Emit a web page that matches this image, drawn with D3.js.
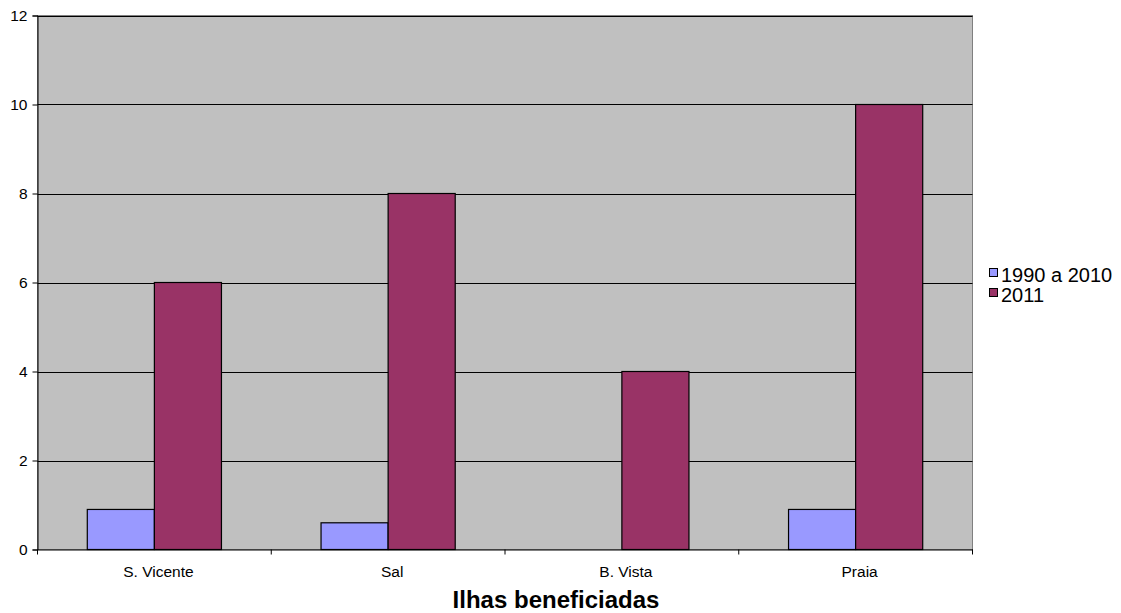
<!DOCTYPE html>
<html>
<head>
<meta charset="utf-8">
<script src="https://cdn.jsdelivr.net/npm/d3@7"></script>
<style>
  html, body { margin: 0; padding: 0; background: #fff; }
  svg { display: block; font-family: "Liberation Sans", Arial, sans-serif; }
</style>
</head>
<body>
<svg id="chart" width="1121" height="613"></svg>
<script>
// Islands and yearly counts
const categories = ["S. Vicente", "Sal", "B. Vista", "Praia"];
const seriesNames = ["1990 a 2010", "2011"];
const values1990to2010 = [0.9, 0.6, 0, 0.9];
const values2011 = [6, 8, 4, 10];
const yTicks = [0, 2, 4, 6, 8, 10, 12];
const seriesColors = ["#9999FF", "#993366"];
const axisTitle = "Ilhas beneficiadas";

const svg = d3.select("#chart");
const plot = { left: 37.5, top: 15.5, right: 972.5, bottom: 549.5 };

const x = d3.scaleBand().domain(categories).range([plot.left, plot.right]).paddingInner(0).paddingOuter(0);
const bw = x.bandwidth();
const barW = bw * 0.287;
const groupOffset = (bw - 2 * barW) / 2;
const xs = d3.scaleBand().domain(seriesNames).range([groupOffset, groupOffset + 2 * barW]).padding(0);
const y = d3.scaleLinear().domain([0, 12]).range([plot.bottom, plot.top]);

// plot background
svg.append("rect")
  .attr("x", plot.left).attr("y", plot.top)
  .attr("width", plot.right - plot.left).attr("height", plot.bottom - plot.top)
  .attr("fill", "#C0C0C0").attr("stroke", "#808080").attr("stroke-width", 1);

// horizontal gridlines
svg.append("g").selectAll("line").data(yTicks.filter(d => d > 0)).join("line")
  .attr("x1", plot.left).attr("x2", plot.right)
  .attr("y1", d => Math.round(y(d)) + 0.5).attr("y2", d => Math.round(y(d)) + 0.5)
  .attr("stroke", "#000").attr("stroke-width", 1);

// bars
const rows = categories.map((c, i) => ({ cat: c, vals: [values1990to2010[i], values2011[i]] }));
const groups = svg.append("g").selectAll("g").data(rows).join("g")
  .attr("transform", d => `translate(${x(d.cat)},0)`);
groups.selectAll("rect").data(d => d.vals.map((v, j) => ({ v, s: seriesNames[j], j })).filter(e => e.v > 0))
  .join("rect")
  .attr("x", e => xs(e.s))
  .attr("width", barW)
  .attr("y", e => y(e.v))
  .attr("height", e => y(0) - y(e.v))
  .attr("fill", e => seriesColors[e.j])
  .attr("stroke", "#000").attr("stroke-width", 1.2);

// y axis
const yAxis = d3.axisLeft(y).tickValues(yTicks).tickSize(5).tickPadding(5).tickFormat(d3.format("d"));
const yg = svg.append("g").attr("transform", `translate(${plot.left},0)`).call(yAxis);
yg.select(".domain").attr("stroke", "#000");
yg.selectAll(".tick line").attr("stroke", "#000");
yg.selectAll("text").attr("font-size", 15.5).attr("fill", "#000")
  .attr("font-family", "'Liberation Sans', Arial, sans-serif");

// x axis
const xAxis = d3.axisBottom(x).tickSize(0).tickPadding(16);
const xg = svg.append("g").attr("transform", `translate(0,${plot.bottom})`).call(xAxis);
xg.select(".domain").attr("stroke", "#000");
xg.selectAll("text").attr("font-size", 15.5).attr("fill", "#000").attr("dx", 4)
  .attr("font-family", "'Liberation Sans', Arial, sans-serif");
// boundary tick marks between categories
const bounds = categories.map(c => x(c)).concat([plot.right]);
xg.append("g").selectAll("line").data(bounds).join("line")
  .attr("x1", d => d).attr("x2", d => d).attr("y1", 0).attr("y2", 5)
  .attr("stroke", "#000");

// axis title
svg.append("text")
  .attr("x", 556).attr("y", 608)
  .attr("text-anchor", "middle").attr("font-weight", "bold").attr("font-size", 24)
  .attr("fill", "#000").text(axisTitle);

// legend
const legend = svg.append("g").attr("transform", "translate(989,267)");
seriesNames.forEach((s, i) => {
  const g = legend.append("g").attr("transform", `translate(0,${i * 20})`);
  g.append("rect").attr("x", 0.5).attr("y", 1.5).attr("width", 8).attr("height", 8)
    .attr("fill", seriesColors[i]).attr("stroke", "#000").attr("stroke-width", 1);
  g.append("text").attr("x", 12).attr("y", 15).attr("font-size", 20).attr("fill", "#000").text(s);
});
</script>
</body>
</html>
